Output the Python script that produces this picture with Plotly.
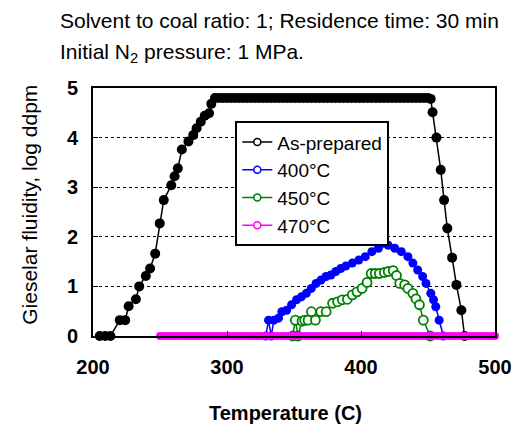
import plotly.graph_objects as go

# ---------------- data ----------------
asprep_T = [205, 209, 213, 220, 224, 226.6, 232, 234.5, 239.4, 242.6, 246.4, 249.8, 252.8,
            258.4, 260.9, 263.3, 266.3, 271.2, 274.8, 277.3, 280.4, 283.4, 286.6, 288.3,
            291, 294, 297, 300, 303, 306, 309, 312, 315, 318, 321, 324, 327, 330, 333, 336,
            339, 342, 345, 348, 351, 354, 357, 360, 363, 366, 369, 372, 375, 378, 381, 384,
            387, 390, 393, 396, 399, 402, 405, 408, 411, 414, 417, 420, 423, 426, 429, 432,
            435, 438, 441, 444, 447, 450, 452,
            453.4, 456.3, 459.5, 462, 464.4, 468, 471.2, 474.9, 477.3]
asprep_v = [0, 0, 0, 0.32, 0.32, 0.6, 0.74, 1.0, 1.21, 1.36, 1.66, 2.27, 2.74,
            3.04, 3.22, 3.38, 3.76, 3.92, 4.05, 4.19, 4.32, 4.44, 4.49, 4.68,
            4.8, 4.8, 4.8, 4.8, 4.8, 4.8, 4.8, 4.8, 4.8, 4.8, 4.8, 4.8, 4.8, 4.8, 4.8, 4.8,
            4.8, 4.8, 4.8, 4.8, 4.8, 4.8, 4.8, 4.8, 4.8, 4.8, 4.8, 4.8, 4.8, 4.8, 4.8, 4.8,
            4.8, 4.8, 4.8, 4.8, 4.8, 4.8, 4.8, 4.8, 4.8, 4.8, 4.8, 4.8, 4.8, 4.8, 4.8, 4.8,
            4.8, 4.8, 4.8, 4.8, 4.8, 4.8, 4.78,
            4.51, 4.0, 3.35, 2.74, 2.17, 1.58, 1.03, 0.52, 0]

t400_T = [329, 331, 333, 335, 338.4, 340.9, 344.5, 348.2, 351.9, 355.5, 359.2, 362.9,
          366.5, 370.2, 373.9, 377.5, 381.2, 384.9, 388.6, 393.5, 398.3, 403.2, 408.1,
          413, 416.7, 420.3, 425.2, 430.1, 435, 438.7, 442.3, 446, 448.5, 452.1, 454.1,
          455.8, 458.3, 461.4]
t400_v = [0, 0.32, 0, 0.32, 0.36, 0.49, 0.52, 0.63, 0.73, 0.79, 0.86, 0.96,
          1.06, 1.13, 1.2, 1.23, 1.3, 1.36, 1.41, 1.47, 1.53, 1.6, 1.7,
          1.77, 1.87, 1.83, 1.77, 1.7, 1.6, 1.47, 1.33, 1.2, 1.06, 0.86, 0.73,
          0.59, 0.32, 0]

t450_T = [349, 351, 353, 356, 358, 360.5, 363, 366, 370, 374, 378.8, 382.5, 386, 389.8,
          393.5, 397, 400.8, 404.5, 407.6, 410.6, 413.7, 417.4, 420.3, 424, 426.5, 428.9,
          432.6, 435, 438.7, 441, 443.6, 446.5, 451.6]
t450_v = [0, 0.32, 0, 0.3, 0.32, 0.32, 0.49, 0.32, 0.49, 0.49, 0.66, 0.69, 0.73, 0.74,
          0.83, 0.89, 0.96, 1.08, 1.26, 1.26, 1.26, 1.28, 1.3, 1.32, 1.22, 1.06,
          1.03, 0.96, 0.86, 0.75, 0.63, 0.32, 0]

t470_T = [250, 253, 256, 259, 262, 265, 268, 271, 274, 277, 280, 283, 286, 289, 292, 295,
          298, 301, 304, 307, 310, 313, 316, 319, 322, 325, 328, 331, 334, 337, 340, 343,
          346, 349, 352, 355, 358, 361, 364, 367, 370, 373, 376, 379, 382, 385, 388, 391,
          394, 397, 400, 403, 406, 409, 412, 415, 418, 421, 424, 427, 430, 433, 436, 439,
          442, 445, 448, 451, 454, 457, 460, 463, 466, 469, 472, 475, 478, 481, 484, 487,
          490, 493, 496, 499, 500]
t470_v = [0, 0, 0, 0, 0, 0, 0, 0, 0, 0, 0, 0, 0, 0, 0, 0,
          0, 0, 0, 0, 0, 0, 0, 0, 0, 0, 0, 0, 0, 0, 0, 0,
          0, 0, 0, 0, 0, 0, 0, 0, 0, 0, 0, 0, 0, 0, 0, 0,
          0, 0, 0, 0, 0, 0, 0, 0, 0, 0, 0, 0, 0, 0, 0, 0,
          0, 0, 0, 0, 0, 0, 0, 0, 0, 0, 0, 0, 0, 0, 0, 0,
          0, 0, 0, 0, 0]

series_names = ["As-prepared", "400°C", "450°C", "470°C"]
series_colors = ["#000000", "#0000FF", "#008000", "#FF00FF"]
x_ticks = [200, 300, 400, 500]
y_ticks = [0, 1, 2, 3, 4, 5]

FONT = "Arial, Liberation Sans, sans-serif"

fig = go.Figure()

# data traces
fig.add_trace(go.Scatter(x=asprep_T, y=asprep_v, mode="lines+markers", showlegend=False,
                         line=dict(color=series_colors[0], width=1.5),
                         marker=dict(color=series_colors[0], size=10, symbol="circle"),
                         cliponaxis=False))
fig.add_trace(go.Scatter(x=t400_T, y=t400_v, mode="lines+markers", showlegend=False,
                         line=dict(color=series_colors[1], width=1.5),
                         marker=dict(color=series_colors[1], size=9, symbol="circle"),
                         cliponaxis=False))
fig.add_trace(go.Scatter(x=t450_T, y=t450_v, mode="lines+markers", showlegend=False,
                         line=dict(color=series_colors[2], width=1.5),
                         marker=dict(color="white", size=9, symbol="circle",
                                     line=dict(color=series_colors[2], width=1.8)),
                         cliponaxis=False))
fig.add_trace(go.Scatter(x=t470_T, y=t470_v, mode="lines+markers", showlegend=False,
                         line=dict(color=series_colors[3], width=1.5),
                         marker=dict(color=series_colors[3], size=8, symbol="circle"),
                         cliponaxis=False))

# legend-only traces (open circle symbols)
for name, col in zip(series_names, series_colors):
    fig.add_trace(go.Scatter(x=[None], y=[None], mode="lines+markers", name=name,
                             line=dict(color=col, width=1.5),
                             marker=dict(color="white", size=7, symbol="circle",
                                         line=dict(color=col, width=1.5))))

fig.update_layout(
    width=524, height=426,
    margin=dict(l=93, r=22, t=88, b=90),
    paper_bgcolor="white", plot_bgcolor="white",
    font=dict(family=FONT, size=20, color="black"),
    legend=dict(x=0.354, y=0.866, xanchor="left", yanchor="top",
                bgcolor="white", bordercolor="black", borderwidth=2,
                font=dict(family=FONT, size=19, color="black"),
                tracegroupgap=0),
    xaxis=dict(range=[200, 500], tickvals=x_ticks, ticktext=[str(v) for v in x_ticks],
               showgrid=False, zeroline=False,
               showline=True, linecolor="black", linewidth=2, mirror=True,
               ticks="inside", ticklen=5, tickcolor="black", tickwidth=1,
               ticklabelstandoff=12,
               tickfont=dict(family=FONT, size=20, color="black", weight="bold")),
    yaxis=dict(range=[0, 5], tickvals=y_ticks, ticktext=[str(v) for v in y_ticks],
               showgrid=True, gridcolor="black", gridwidth=1, griddash="dot",
               zeroline=False,
               showline=True, linecolor="black", linewidth=2, mirror=True,
               ticks="inside", ticklen=5, tickcolor="black", tickwidth=1,
               ticklabelstandoff=9,
               tickfont=dict(family=FONT, size=20, color="black", weight="bold")),
    annotations=[
        dict(text="Solvent to coal ratio: 1; Residence time: 30 min", xref="paper", yref="paper",
             x=-0.087, y=1.274, xanchor="left", yanchor="middle", showarrow=False,
             font=dict(family=FONT, size=21, color="black")),
        dict(text="Initial N<sub>2</sub> pressure: 1 MPa.", xref="paper", yref="paper",
             x=-0.087, y=1.142, xanchor="left", yanchor="middle", showarrow=False,
             font=dict(family=FONT, size=21, color="black")),
        dict(text="Temperature (C)", xref="paper", yref="paper",
             x=0.48, y=-0.31, xanchor="center", yanchor="middle", showarrow=False,
             font=dict(family=FONT, size=20, color="black", weight="bold")),
        dict(text="Gieselar fluidity, log ddpm", xref="paper", yref="paper",
             x=-0.16, y=0.528, xanchor="center", yanchor="middle", showarrow=False,
             textangle=-90,
             font=dict(family=FONT, size=21, color="black")),
    ],
)

fig.write_html("out.html", config={"displayModeBar": False},
               post_script="document.body.style.margin='0';")
